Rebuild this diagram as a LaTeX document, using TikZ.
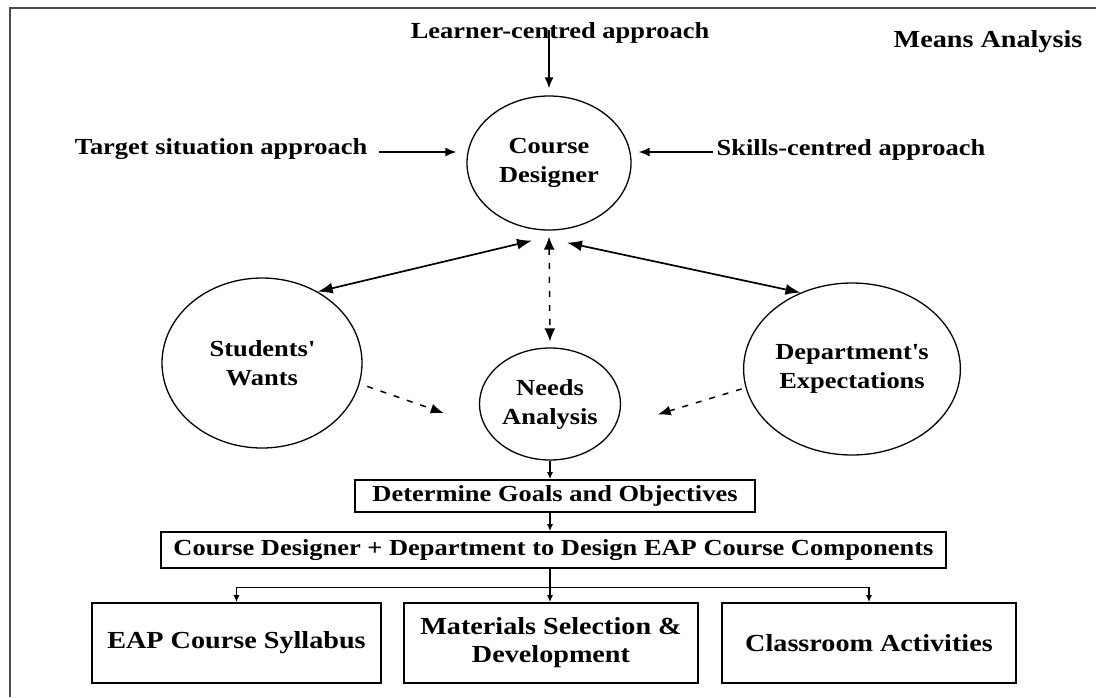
\documentclass[tikz,border=0pt]{standalone}
\usepackage{fontspec}
\newfontfamily\diagfont{Liberation Serif}[FakeStretch=1.15]
\usetikzlibrary{arrows.meta, shapes.geometric, calc, positioning}
\newcommand{\diagText}{\diagfont\bfseries\fontsize{23pt}{29pt}\selectfont}
\newcommand{\boxText}{\diagfont\bfseries\fontsize{24.5pt}{28pt}\selectfont}
\tikzset{
    bubble/.style={ellipse, draw, line width=1.3pt, inner sep=0pt, align=center, font=\diagText},
    stepBox/.style={rectangle, draw, line width=1.7pt, inner sep=0pt, align=center, font=\diagText},
    partBox/.style={stepBox, font=\boxText},
    caption/.style={inner sep=0pt, align=center, font=\diagText},
    flowEdge/.style={-{Latex[length=7pt, width=6pt]}, line width=1.3pt},
    inEdge/.style={-{Latex[length=11pt, width=9pt]}, line width=1.5pt},
    twoWay/.style={{Latex[length=15pt, width=11pt]}-{Latex[length=15pt, width=11pt]}, line width=1.7pt},
    dashEdge/.style={-{Latex[length=13pt, width=10pt]}, line width=1.5pt, dash pattern=on 6pt off 8pt},
    dashTwoWay/.style={{Latex[length=13pt, width=11pt]}-{Latex[length=13pt, width=11pt]}, line width=1.5pt, dash pattern=on 6pt off 8pt},
    frameLine/.style={line width=2pt, draw=black!70},
}
\newcommand{\drawLink}[4][flowEdge]{
    \draw[#1, #4] (#2) -- (#3);
}

\begin{document}
\begin{tikzpicture}[x=1pt, y=-1pt]

        \useasboundingbox (0,0) rectangle (1096,697);
        \draw[frameLine] (10,697) -- (10,8) -- (1096,8);

        \node[caption] (learner) at (560,33) {Learner-centred approach};
        \node[caption, font=\boxText] (means) at (988,42) {Means Analysis};
        \node[caption] (target) at (221,149) {Target situation approach};
        \node[caption] (skills) at (851,150) {Skills-centred approach};

        \node[bubble, minimum width=164pt, minimum height=134pt] (CD) at (549,163) {Course\\Designer};
        \node[bubble, minimum width=200pt, minimum height=170pt] (SW) at (262,363) {Students\textquotesingle\\Wants};
        \node[bubble, minimum width=211pt, minimum height=172pt] (DE) at (852,369) {Department\textquotesingle s\\Expectations};
        \node[bubble, minimum width=141pt, minimum height=112pt] (NA) at (550,404) {Needs\\Analysis};

        \node[stepBox, minimum width=400pt, minimum height=32pt] (goals) at (555,496) {Determine Goals and Objectives};
        \node[stepBox, minimum width=785pt, minimum height=36pt] (design) at (553.5,550) {Course Designer + Department to Design EAP Course Components};

        \node[partBox, minimum width=289pt, minimum height=80pt] (syl) at (236.5,643) {EAP Course Syllabus};
        \node[partBox, minimum width=294pt, minimum height=80pt] (mat) at (551,643) {Materials Selection \&\\Development};
        \node[partBox, minimum width=294pt, minimum height=80pt] (act) at (869,643) {Classroom Activities};

        \coordinate (cdL) at ($(CD.south)+(-17,10)$);
        \coordinate (cdR) at ($(CD.south)+(18,12)$);
        \coordinate (split) at ($(NA.south |- design.south)!0.55!(NA.south |- mat.north)$);

        \draw[inEdge, shorten >=7pt] (CD.north |- learner.south) ++(0,-14) -- (CD.north);
        \draw[inEdge, shorten <=12pt, shorten >=10pt] (target.east) ++(0,3) -- ($(CD.west)+(0,-11)$);
        \draw[inEdge, shorten <=3pt, shorten >=7pt] (skills.west) ++(0,2) -- ($(CD.east)+(0,-11)$);

        \drawLink[twoWay]{cdL}{SW.52}{}
        \drawLink[twoWay]{cdR}{DE.124}{}
        \drawLink[dashTwoWay]{CD.south}{NA.north}{shorten <=6pt, shorten >=6pt}
        \drawLink[dashEdge]{SW.-12}{NA.200}{shorten <=8pt, shorten >=44pt}
        \drawLink[dashEdge]{DE.190}{NA.-20}{shorten <=4pt, shorten >=45pt}

        \drawLink{NA.south}{NA.south |- goals.north}{}
        \drawLink{NA.south |- goals.south}{NA.south |- design.north}{}
        \drawLink{NA.south |- design.south}{NA.south |- mat.north}{}
        \draw[flowEdge] (split) -| (syl.north);
        \draw[flowEdge] (split) -| (act.north);

    \end{tikzpicture}
\end{document}
